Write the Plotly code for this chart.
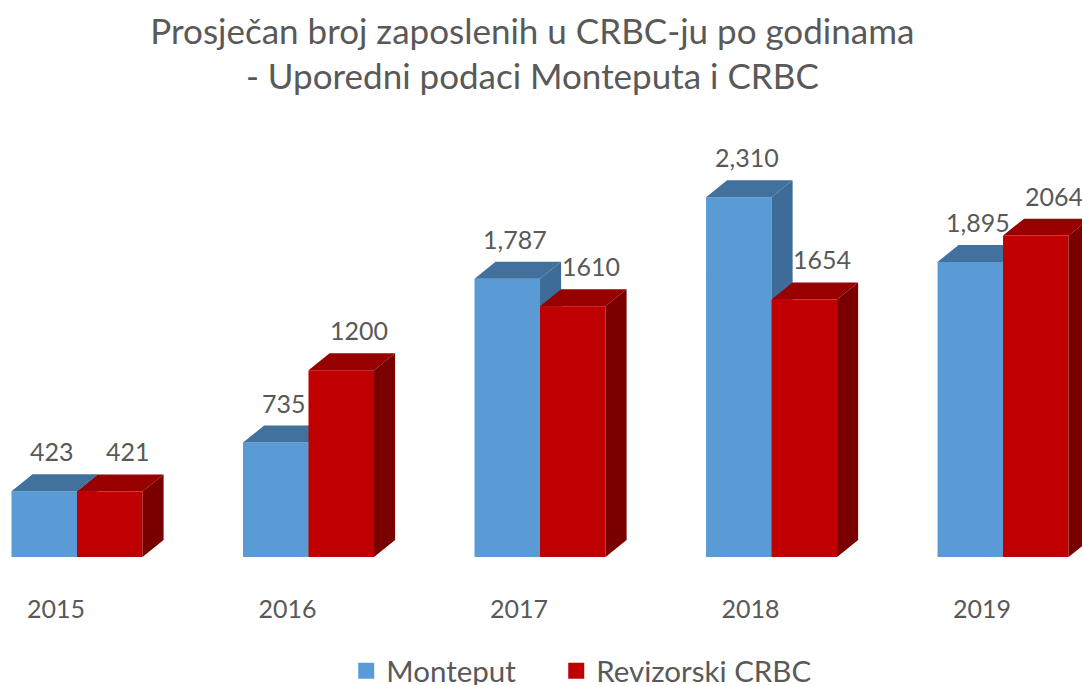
import plotly.graph_objects as go

years = ["2015", "2016", "2017", "2018", "2019"]
monteput = [423, 735, 1787, 2310, 1895]
crbc = [421, 1200, 1610, 1654, 2064]
series_names = ["Monteput", "Revizorski CRBC"]
title_lines = ["Prosječan broj zaposlenih u CRBC-ju po godinama",
               "- Uporedni podaci Monteputa i CRBC"]

FONT = "Lato, 'Open Sans', sans-serif"
TXT = "#595959"
# colours: front, top, side
BLUE = ("#5B9BD5", "#41719C", "#3D6C98")
RED = ("#C00000", "#980000", "#7A0000")

W = 0.283      # bar width (category units)
DX = 0.091     # 3D depth, x (category units)
DY = 109       # 3D depth, y (value units)

idx = list(range(len(years)))


def faces(values, offset):
    front_x, front_y, top_x, top_y, side_x, side_y = [], [], [], [], [], []
    for i, v in zip(idx, values):
        x0 = i + offset
        x1 = x0 + W
        front_x += [x0, x1, x1, x0, x0, None]
        front_y += [0, 0, v, v, 0, None]
        top_x += [x0, x1, x1 + DX, x0 + DX, x0, None]
        top_y += [v, v, v + DY, v + DY, v, None]
        side_x += [x1, x1 + DX, x1 + DX, x1, x1, None]
        side_y += [0, DY, v + DY, v, 0, None]
    return (front_x, front_y), (top_x, top_y), (side_x, side_y)


fig = go.Figure()
for values, offset, cols in [(monteput, -W, BLUE), (crbc, 0.0, RED)]:
    for (xs, ys), col in zip(faces(values, offset), cols):
        fig.add_trace(go.Scatter(x=xs, y=ys, fill="toself", fillcolor=col,
                                 mode="lines", line=dict(width=0, color=col),
                                 showlegend=False, hoverinfo="skip"))

# data labels
for values, offset, fmt, xs in [(monteput, -W, "{:,}", 8), (crbc, 0.0, "{}", 18)]:
    for i, v in zip(idx, values):
        fig.add_annotation(x=i + offset + W / 2, y=v + DY,
                           text=fmt.format(v), showarrow=False,
                           yanchor="middle", xshift=xs, yshift=23,
                           font=dict(family=FONT, size=25, color=TXT))

# legend entries
for name, col, lw in zip(series_names, (BLUE[0], RED[0]), (165, None)):
    fig.add_trace(go.Scatter(x=[None], y=[None], mode="markers", name=name,
                             legendwidth=lw,
                             marker=dict(symbol="square", size=18, color=col)))

fig.update_layout(
    width=1082, height=685,
    paper_bgcolor="white", plot_bgcolor="white",
    margin=dict(l=0, r=0, t=100, b=128),
    title=dict(text="<br>".join(title_lines), x=0.492, xanchor="center",
               yref="container", y=0.936, yanchor="top",
               font=dict(family=FONT, size=35, color=TXT)),
    xaxis=dict(range=[-0.3326, 4.341], tickvals=[i - DX for i in idx],
               ticktext=years, showgrid=False, zeroline=False, showline=False,
               ticks="", ticklabelstandoff=35,
               tickfont=dict(family=FONT, size=25, color=TXT)),
    yaxis=dict(range=[0, 2935], visible=False),
    legend=dict(orientation="h", x=0.32, xanchor="left",
                yref="container", y=0.0204, yanchor="middle",
                font=dict(family=FONT, size=29.5, color=TXT)),
    showlegend=True,
)

fig.write_html("out.html",
               config={"displayModeBar": False},
               post_script="document.body.style.margin='0';"
                           "document.body.style.overflow='hidden';")
